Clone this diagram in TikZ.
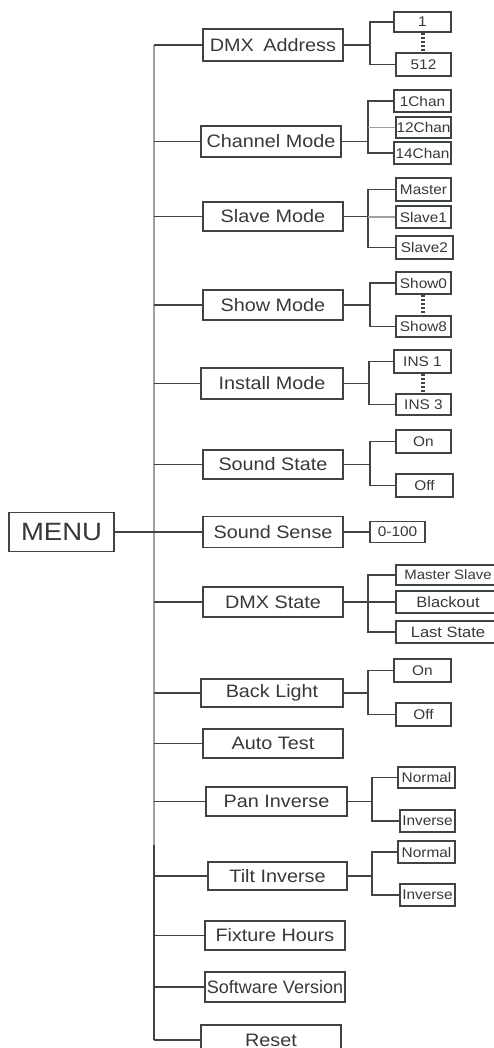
\documentclass[tikz,border=0pt]{standalone}
\usepackage{fontspec}
\setmainfont{Liberation Sans}[FakeStretch=1.1]
\newfontfamily\plainsans{Liberation Sans}
\usetikzlibrary{calc}
\definecolor{ln}{HTML}{3E4442}
\definecolor{lg}{HTML}{A0A0A0}
\definecolor{tx}{HTML}{383838}
\tikzset{
  box/.style={draw=ln, line width=1.3pt, inner sep=0pt, text=tx, anchor=center},
  mainbox/.style={box, font=\fontsize{18}{20}\selectfont},
  subbox/.style={box, font=\fontsize{14}{16}\selectfont},
  wire/.style={draw=ln, line width=1.3pt},
  gwire/.style={draw=lg, line width=1.5pt},
  dots/.style={draw=ln, line width=3.5pt, dash pattern=on 2.6pt off 1.4pt},
}
\begin{document}
\begin{tikzpicture}[x=1pt,y=-1pt]
\useasboundingbox (0,0) rectangle (494,1048);
% MENU
\node[box, font=\fontsize{25}{28}\selectfont, minimum width=105, minimum height=39] (menu) at (61.5,532) {MENU};
% main boxes
\node[mainbox, minimum width=140, minimum height=32] (dmx)   at (273,45)    {DMX\hspace{4pt} Address};
\node[mainbox, minimum width=140, minimum height=31] (chan)  at (271,141.5) {Channel Mode};
\node[mainbox, minimum width=140, minimum height=29] (slave) at (273,216.5) {Slave Mode};
\node[mainbox, minimum width=140, minimum height=30] (show)  at (273,305)   {Show Mode};
\node[mainbox, minimum width=142, minimum height=31] (inst)  at (272,383.5) {Install Mode};
\node[mainbox, minimum width=140, minimum height=29] (sstate) at (273,464.5) {Sound State};
\node[mainbox, minimum width=140, minimum height=31] (ssense) at (273,532)  {Sound Sense};
\node[mainbox, minimum width=140, minimum height=30] (dmxst) at (273,602)   {DMX State};
\node[mainbox, minimum width=142, minimum height=28] (back)  at (272,693)   {Back Light};
\node[mainbox, minimum width=140, minimum height=29] (auto)  at (273,743.5) {Auto Test};
\node[mainbox, minimum width=141, minimum height=29] (pan)   at (276.5,801.5) {Pan Inverse};
\node[mainbox, minimum width=139, minimum height=28] (tilt)  at (277.5,876) {Tilt Inverse};
\node[mainbox, minimum width=140, minimum height=29] (fix)   at (275,935.5) {Fixture Hours};
\node[mainbox, minimum width=140, minimum height=30] (soft)  at (275,987)   {\plainsans Software Version};
\node[mainbox, minimum width=140, minimum height=30] (reset) at (271,1040)  {Reset};
% trunk
\coordinate (ttop) at (154,45);
\coordinate (tmid) at (154,845);
\coordinate (tbot) at (154,1040);
\draw[gwire] (ttop) -- (tmid);
\draw[wire] (tmid) -- (tbot);
\draw[wire] (menu.east) -- (ssense.west);
\foreach \n in {dmx,chan,slave,show,inst,sstate,dmxst,back,auto,pan,tilt,fix,soft,reset}
  \draw[wire] (\n.west) -- (\n.west -| ttop);
% DMX Address
\node[subbox, minimum width=57, minimum height=20] (a1) at (422.5,22) {1};
\node[subbox, minimum width=55, minimum height=23] (a512) at (423.5,64.5) {512};
\coordinate (ja) at (370,45);
\draw[wire] (dmx.east) -- (ja);
\draw[wire] (a1.west) -| (ja) |- (a512.west);
\draw[dots] (a1.south -| 423,0) -- (a512.north -| 423,0);
% Channel Mode
\node[subbox, minimum width=57, minimum height=22] (c1) at (422.5,101) {1Chan};
\node[subbox, minimum width=55, minimum height=21] (c12) at (423.5,127.5) {12Chan};
\node[subbox, minimum width=57, minimum height=22] (c14) at (422.5,153) {14Chan};
\coordinate (jc) at (368,141.5);
\draw[wire] (chan.east) -- (jc);
\draw[wire] (c1.west) -| (jc) |- (c14.west);
\draw[gwire] (c12.west) -- (c12.west -| jc);
% Slave Mode
\node[subbox, minimum width=55, minimum height=23] (sm) at (423.5,189.5) {Master};
\node[subbox, minimum width=55, minimum height=22] (s1) at (423.5,217) {Slave1};
\node[subbox, minimum width=57, minimum height=23] (s2) at (424.5,247.5) {Slave2};
\coordinate (js) at (368,216.5);
\draw[wire] (slave.east) -- (js);
\draw[wire] (sm.west) -| (js) |- (s2.west);
\draw[gwire] (s1.west) -- (s1.west -| js);
% Show Mode
\node[subbox, minimum width=55, minimum height=22] (sh0) at (423.5,283) {Show0};
\node[subbox, minimum width=55, minimum height=21] (sh8) at (423.5,326.5) {Show8};
\coordinate (jsh) at (370,305);
\draw[wire] (show.east) -- (jsh);
\draw[wire] (sh0.west) -| (jsh) |- (sh8.west);
\draw[dots] (sh0.south -| 423,0) -- (sh8.north -| 423,0);
% Install Mode
\node[subbox, minimum width=57, minimum height=23] (i1) at (422.5,361.5) {INS 1};
\node[subbox, minimum width=55, minimum height=21] (i3) at (423.5,404.5) {INS 3};
\coordinate (ji) at (369,383.5);
\draw[wire] (inst.east) -- (ji);
\draw[wire] (i1.west) -| (ji) |- (i3.west);
\draw[dots] (i1.south -| 423,0) -- (i3.north -| 423,0);
% Sound State
\node[subbox, minimum width=55, minimum height=23] (son) at (423.5,441.5) {On};
\node[subbox, minimum width=57, minimum height=23] (soff) at (424.5,485.5) {Off};
\coordinate (jss) at (370,464.5);
\draw[wire] (sstate.east) -- (jss);
\draw[wire] (son.west) -| (jss) |- (soff.west);
% Sound Sense
\node[subbox, minimum width=55, minimum height=21] (rng) at (397.5,532) {0-100};
\draw[wire] (ssense.east) -- (rng.west);
% DMX State
\node[subbox, font=\fontsize{13.6}{16}\selectfont, minimum width=104, minimum height=20] (ms) at (448,575) {Master Slave};
\node[subbox, font=\fontsize{15}{17}\selectfont, minimum width=104, minimum height=22] (bo) at (448,602) {Blackout};
\node[subbox, font=\fontsize{15}{17}\selectfont, minimum width=104, minimum height=22] (ls) at (448,632) {Last State};
\coordinate (jd) at (368,602);
\draw[wire] (dmxst.east) -- (bo.west);
\draw[wire] (ms.west) -| (jd) |- (ls.west);
% Back Light
\node[subbox, minimum width=57, minimum height=23] (bon) at (422.5,670.5) {On};
\node[subbox, minimum width=55, minimum height=23] (boff) at (423.5,714.5) {Off};
\coordinate (jb) at (368,693);
\draw[wire] (back.east) -- (jb);
\draw[wire] (bon.west) -| (jb) |- (boff.west);
% Pan Inverse
\node[subbox, minimum width=57, minimum height=21] (pn) at (426.5,777.5) {Normal};
\node[subbox, minimum width=55, minimum height=22] (pi) at (427.5,821) {Inverse};
\coordinate (jp) at (372,801.5);
\draw[wire] (pan.east) -- (jp);
\draw[wire] (pn.west) -| (jp) |- (pi.west);
% Tilt Inverse
\node[subbox, minimum width=57, minimum height=22] (tn) at (426.5,852) {Normal};
\node[subbox, minimum width=55, minimum height=22] (ti) at (427.5,895) {Inverse};
\coordinate (jt) at (372,876);
\draw[wire] (tilt.east) -- (jt);
\draw[wire] (tn.west) -| (jt) |- (ti.west);
\end{tikzpicture}
\end{document}
